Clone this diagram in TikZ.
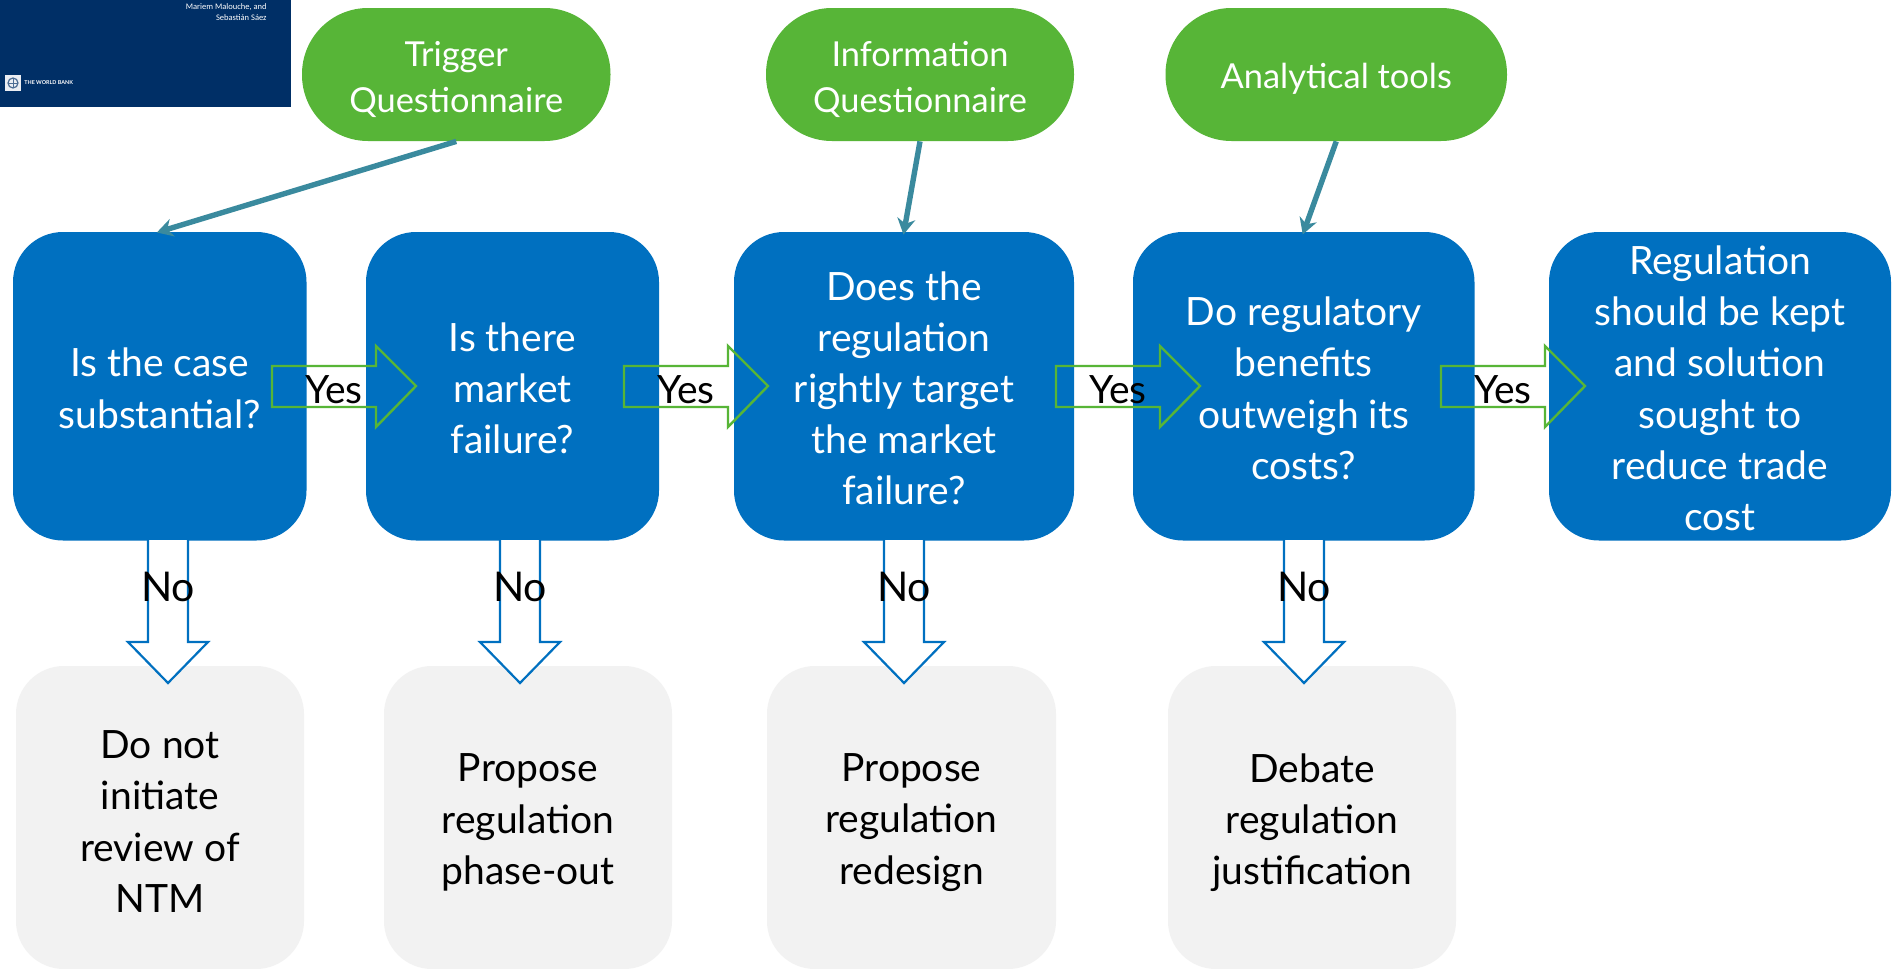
\documentclass[tikz,border=0pt]{standalone}
\usepackage{fontspec}
\setmainfont{Lato}
\newfontfamily\narrowfont{Carlito}
\usetikzlibrary{arrows.meta}
\definecolor{bluebox}{HTML}{0070C0}
\definecolor{greenbox}{HTML}{57B537}
\definecolor{greybox}{HTML}{F2F2F2}
\definecolor{banner}{HTML}{002F66}
\definecolor{teal}{HTML}{3A8A9E}
\newcommand{\mainsize}{\fontsize{19.5}{25.6}\selectfont}
\newcommand{\smallsize}{\fontsize{17.2}{22.6}\selectfont}
\newcommand{\boxnode}[8]{% name, style, x1,y1,x2,y2, text shift, text
  \node[#2,minimum width=(#5-#3)*0.5pt,minimum height=(#6-#4)*0.5pt] (#1) at ({(#3+#5)/2},{(#4+#6)/2}) {};
  \node[#2 text] (#1t) at ([yshift=-#7*0.5pt]#1.center) {#8};}
\newcommand{\yesarrow}[2]{% x left, name
  \draw[yesline] (#1,366) -- ++(104,0) -- ++(0,-20) -- ++(40,40) -- ++(-40,41) -- ++(0,-20) -- ++(-104,0) -- cycle;
  \node[lab] (#2) at (#1+62,390) {Yes};}
\newcommand{\noarrow}[2]{% centre x, name
  \draw[noline] (#1-20,540) -- (#1-20,642) -- (#1-40,642) -- (#1,683) -- (#1+40,642) -- (#1+20,642) -- (#1+20,540);
  \node[lab,font=\fontsize{20.5}{26}\selectfont] (#2) at (#1,587) {No};}
\tikzset{
  x=0.5pt,y=-0.5pt,
  bluestyle/.style={fill=bluebox,rounded corners=25pt,inner sep=0pt},
  greystyle/.style={fill=greybox,rounded corners=24pt,inner sep=0pt},
  greenstyle/.style={fill=greenbox,rounded corners=33pt,inner sep=0pt},
  bluestyle text/.style={text=white,align=center,font=\mainsize,inner sep=0pt},
  greystyle text/.style={text=black,align=center,font=\mainsize,inner sep=0pt},
  greenstyle text/.style={text=white,align=center,font=\smallsize,inner sep=0pt},
  lab/.style={text=black,font=\mainsize,inner sep=0pt},
  yesline/.style={draw=greenbox,line width=1.2pt,miter limit=10},
  noline/.style={draw=bluebox,line width=1.1pt,fill=white},
  link/.style={draw=teal,line width=2.7pt,-{Stealth[length=8pt,width=9pt]},shorten >=-1.5pt},
}
\begin{document}
\begin{tikzpicture}
\useasboundingbox (0,0) rectangle (1892,969);
\fill[white] (0,0) rectangle (1892,969);
% banner
\fill[banner] (0,0) rectangle (291,107);
\node[anchor=north east,align=right,text=white,font=\narrowfont\fontsize{4.25}{5.3}\selectfont,inner sep=0pt] (authors) at (267,3.5) {Mariem Malouche, and\\Sebastián Sáez};
\node[anchor=west,text=white,font=\fontsize{2.7}{4}\selectfont\bfseries,inner sep=0pt] (wb) at (24,83) {THE WORLD BANK};
\fill[white!92!banner] (5,75) rectangle (21,91);
\draw[banner!70!white,line width=0.6pt] (13,83) ellipse (5 and 5);
\draw[banner!70!white,line width=0.5pt] (8,83) -- (18,83) (13,78) -- (13,88);
\boxnode{g1}{greenstyle}{302}{8}{610.5}{141}{5}{Trigger\\Questionnaire}
\boxnode{g2}{greenstyle}{766}{8}{1074}{141}{5}{Information\\Questionnaire}
\boxnode{g3}{greenstyle}{1165.5}{8}{1507}{141}{4}{Analytical tools}
\boxnode{b1}{bluestyle}{13}{232}{306.5}{540.5}{2}{Is the case\\substantial?}
\boxnode{b2}{bluestyle}{366}{232}{659}{540.5}{2}{Is there\\market\\failure?}
\boxnode{b3}{bluestyle}{734}{232}{1074}{540.5}{2}{Does the\\regulation\\rightly target\\the market\\failure?}
\boxnode{b4}{bluestyle}{1133}{232}{1474.5}{540.5}{2}{Do regulatory\\benefits\\outweigh its\\costs?}
\boxnode{b5}{bluestyle}{1549}{232}{1891}{540.5}{2}{Regulation\\should be kept\\and solution\\sought to\\reduce trade\\cost}
\boxnode{d1}{greystyle}{16}{666}{304}{969}{4}{Do not\\initiate\\review of\\NTM}
\boxnode{d2}{greystyle}{384}{666}{672}{969}{5}{Propose\\regulation\\phase-out}
\boxnode{d3}{greystyle}{767}{666}{1056}{969}{5}{Propose\\regulation\\redesign}
\boxnode{d4}{greystyle}{1168}{666}{1456}{969}{5}{Debate\\regulation\\justification}
\draw[link] (g1.south) -- (b1.north);
\draw[link] (g2.south) -- (b3.north);
\draw[link] (g3.south) -- (b4.north);
\yesarrow{272}{y1}
\yesarrow{624}{y2}
\yesarrow{1056}{y3}
\yesarrow{1441}{y4}
\noarrow{168}{n1}
\noarrow{520}{n2}
\noarrow{904}{n3}
\noarrow{1304}{n4}
\end{tikzpicture}
\end{document}
